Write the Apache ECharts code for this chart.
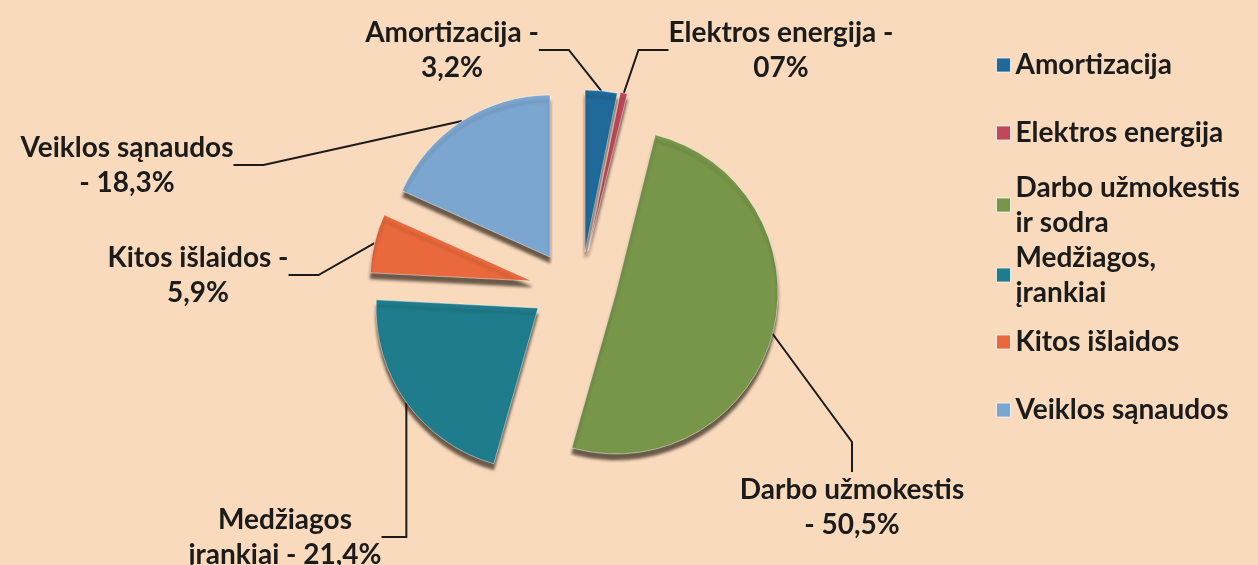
<!DOCTYPE html>
<html>
<head>
<meta charset="utf-8">
<script src="https://cdn.jsdelivr.net/npm/echarts@6/dist/echarts.min.js"></script>
<style>
  html, body { margin: 0; background: #f9dabd; }
  #main { width: 1258px; height: 565px; }
</style>
</head>
<body>
<div id="main"></div>
<script>
// data
var names = ['Amortizacija', 'Elektros energija', 'Darbo užmokestis ir sodra', 'Medžiagos, įrankiai', 'Kitos išlaidos', 'Veiklos sąnaudos'];
var legendText = ['Amortizacija', 'Elektros energija', 'Darbo užmokestis\nir sodra', 'Medžiagos,\nįrankiai', 'Kitos išlaidos', 'Veiklos sąnaudos'];
var values = [3.2, 0.7, 50.5, 21.4, 5.9, 18.3];
var labelText = ['Amortizacija -\n3,2%', 'Elektros energija -\n07%', 'Darbo užmokestis\n- 50,5%', 'Medžiagos\nįrankiai - 21,4%', 'Kitos išlaidos -\n5,9%', 'Veiklos sąnaudos\n- 18,3%'];

// look
var colors = ['#1f6a98', '#c0485a', '#78964a', '#1f7c8c', '#e9683c', '#7ba6d0'];
var sliceCenter = [[585, 252], [588, 251], [616, 292], [538, 308], [532, 281], [550, 257]];
var labelPos = [[452, 50], [781, 50], [852, 507], [285, 537], [198, 275], [127, 165]];
var legendY = [65, 133, 205, 275, 342, 410];
var FONT = 'Lato';
var FS = 28;
var LH = 35;

var myChart = echarts.init(document.getElementById('main'));

var hidden = {
  itemStyle: { color: 'rgba(0,0,0,0)', shadowColor: 'rgba(0,0,0,0)', borderWidth: 0 },
  label: { show: false },
  labelLine: { show: false },
  emphasis: { disabled: true }
};

var series = names.map(function (n, i) {
  return {
    type: 'pie',
    center: sliceCenter[i],
    radius: 162,
    startAngle: 90,
    clockwise: true,
    avoidLabelOverlap: false,
    emphasis: { scale: false },
    data: values.map(function (v, j) {
      if (j !== i) {
        return Object.assign({ name: names[j], value: v }, hidden);
      }
      return {
        name: names[j],
        value: v,
        itemStyle: {
          color: colors[j],
          borderColor: 'rgba(255,255,255,0.45)',
          borderWidth: 1,
          shadowColor: 'rgba(30,20,10,0.65)',
          shadowBlur: 3,
          shadowOffsetY: 6
        },
        label: {
          show: true,
          formatter: function () { return labelText[j]; },
          fontFamily: FONT,
          fontSize: FS,
          fontWeight: 'bold',
          color: '#1b1b1b',
          lineHeight: LH,
          align: 'center'
        },
        labelLine: { show: true, smooth: false, lineStyle: { color: '#1b1b1b', width: 2 } }
      };
    }),
    labelLayout: function (p) {
      var q = labelPos[p.dataIndex];
      return { x: q[0], y: q[1], align: 'center', verticalAlign: 'middle' };
    }
  };
});

var legends = names.map(function (n, i) {
  var lines = legendText[i].split('\n').length;
  return {
    orient: 'vertical',
    left: 996,
    top: legendY[i] - (2 * lines - 1) * LH / 2,
    padding: 0,
    itemWidth: 14,
    itemHeight: 14,
    icon: 'rect',
    formatter: function () { return legendText[i]; },
    textStyle: { fontFamily: FONT, fontSize: FS, fontWeight: 'bold', color: '#1b1b1b', lineHeight: LH },
    data: [{
      name: n,
      itemStyle: { color: colors[i], borderColor: 'rgba(255,255,255,0.7)', borderWidth: 1 },
      textStyle: lines > 1 ? { padding: [LH, 0, 0, 0] } : {}
    }]
  };
});

var option = {
  backgroundColor: '#f9dabd',
  animation: false,
  legend: legends,
  series: series
};

myChart.setOption(option);
</script>
</body>
</html>
